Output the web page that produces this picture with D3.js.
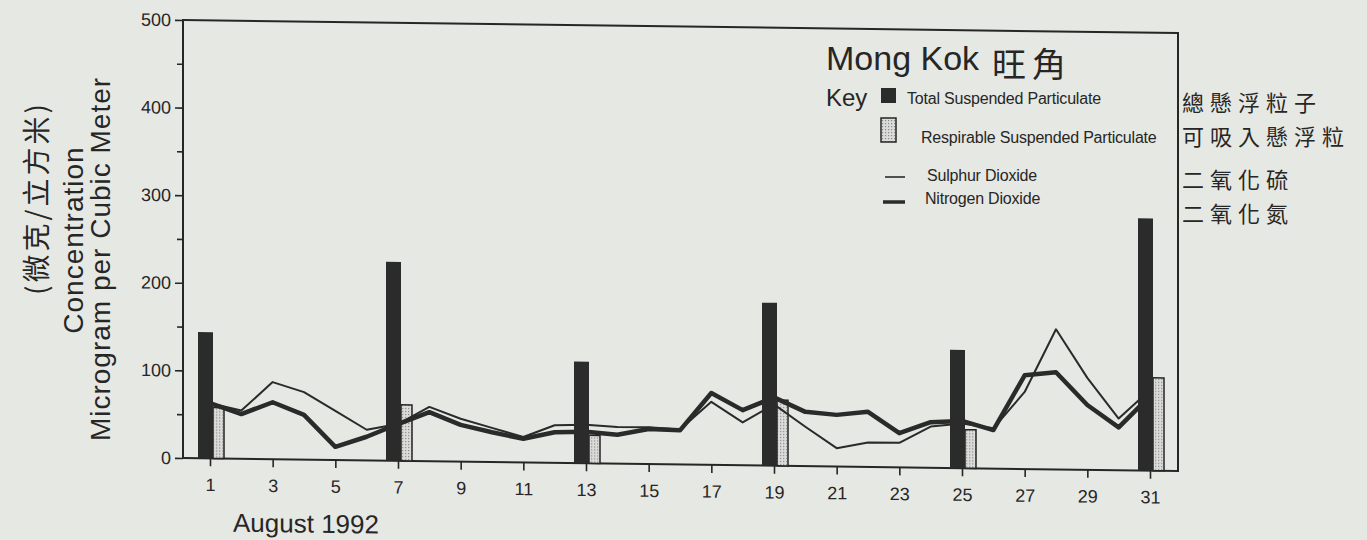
<!DOCTYPE html>
<html>
    <head>
        <meta charset="UTF-8">
        <title>Mong Kok August 1992</title>
        <script src="https://d3js.org/d3.v7.min.js"></script>
        <style>
            body {
                margin: 0;
                padding: 0;
                background: #e6e8e3;
            }
            text {
                font-family: "Liberation Sans", Arial, sans-serif;
                fill: #262626;
            }
            .cjk {
                font-family: "Noto Sans CJK TC", "Noto Sans CJK SC", sans-serif;
            }
        </style>
    </head>
    <body>
        <div id="chart"></div>
        <script>
            // day of month along the x axis
            var days = [1, 2, 3, 4, 5, 6, 7, 8, 9, 10, 11, 12, 13, 14, 15, 16,
                        17, 18, 19, 20, 21, 22, 23, 24, 25, 26, 27, 28, 29, 30, 31];
            // sulphur dioxide (thin line)
            var so2 = [63, 55, 88, 77, 56, 35, 42, 62, 49, 39, 29, 43, 44, 42, 42, 40,
                       72, 49, 70, 45, 21, 28, 28, 47, 51, 46, 88, 160, 105, 59, 92];
            // nitrogen dioxide (thick line)
            var no2 = [63, 51, 65, 51, 15, 27, 42, 56, 42, 34, 27, 35, 36, 33, 40, 39,
                       82, 63, 78, 62, 59, 63, 39, 52, 54, 44, 107, 111, 74, 49, 85];
            // particulates sampled every sixth day
            var barDays = [1, 7, 13, 19, 25, 31];
            var tsp = [144, 227, 116, 186, 135, 288];
            var rsp = [58, 64, 32, 75, 44, 106];
            // tick labels
            var yTicks = [0, 100, 200, 300, 400, 500];
            var yMinor = [50, 150, 250, 350, 450];
            var xTicks = [1, 3, 5, 7, 9, 11, 13, 15, 17, 19, 21, 23, 25, 27, 29, 31];

            var svgWidth = 1367, svgHeight = 540;
            // plot frame (note: "top" is reserved on window, so prefix these)
            var frameLeft = 183, frameRight = 1178, frameTop = 20, frameBottom = 458;

            var svg = d3.select('#chart').append('svg')
                .attr('width', svgWidth)
                .attr('height', svgHeight)
                .style('display', 'block');

            // stipple for respirable particulate bars
            var defs = svg.append('defs');
            var pat = defs.append('pattern')
                .attr('id', 'stipple')
                .attr('width', 3).attr('height', 3)
                .attr('patternUnits', 'userSpaceOnUse');
            pat.append('rect').attr('width', 3).attr('height', 3).attr('fill', '#dcdcda');
            pat.append('rect').attr('width', 1.2).attr('height', 1.2).attr('fill', '#8a8a8a');

            var x = d3.scaleLinear().domain([1, 31]).range([210, 1150]);
            var y = d3.scaleLinear().domain([0, 500]).range([frameBottom, frameTop]);

            // the scanned page sits slightly askew
            var g = svg.append('g')
                .attr('transform', `translate(${frameLeft},${frameBottom}) skewY(0.75) translate(${-frameLeft},${-frameBottom})`);

            // frame
            g.append('rect')
                .attr('x', frameLeft).attr('y', frameTop)
                .attr('width', frameRight - frameLeft).attr('height', frameBottom - frameTop)
                .attr('fill', 'none')
                .attr('stroke', '#262626')
                .attr('stroke-width', 2);

            // y axis, major and minor ticks
            var yAxis = g.append('g')
                .attr('transform', `translate(${frameLeft},0)`)
                .call(d3.axisLeft(y).tickValues(yTicks).tickSize(8).tickPadding(4));
            g.append('g')
                .attr('transform', `translate(${frameLeft},0)`)
                .call(d3.axisLeft(y).tickValues(yMinor).tickSize(6).tickFormat(''));
            g.selectAll('.domain').remove();
            g.selectAll('.tick line').attr('stroke', '#262626').attr('stroke-width', 1.6);
            yAxis.selectAll('text')
                .style('font-size', '18px')
                .style('font-family', '"Liberation Sans", Arial, sans-serif')
                .attr('fill', '#262626');

            // x axis
            var xAxis = g.append('g')
                .attr('transform', `translate(0,${frameBottom})`)
                .call(d3.axisBottom(x).tickValues(xTicks).tickSize(8).tickPadding(12));
            xAxis.select('.domain').remove();
            xAxis.selectAll('.tick line').attr('stroke', '#262626').attr('stroke-width', 1.6);
            xAxis.selectAll('text')
                .style('font-size', '18px')
                .style('font-family', '"Liberation Sans", Arial, sans-serif')
                .attr('fill', '#262626');

            g.append('text')
                .attr('x', 233).attr('y', 531)
                .style('font-size', '26px')
                .text('August 1992');

            // respirable suspended particulate bars (behind the lines)
            g.selectAll('.rsp')
                .data(barDays)
                .enter().append('rect')
                .attr('class', 'rsp')
                .attr('x', d => x(d) + 3)
                .attr('width', 11)
                .attr('y', (d, i) => y(rsp[i]))
                .attr('height', (d, i) => y(0) - y(rsp[i]))
                .attr('fill', 'url(#stipple)')
                .attr('stroke', '#262626')
                .attr('stroke-width', 1.5);

            // pollutant lines
            var line = d3.line()
                .x(d => x(d[0]))
                .y(d => y(d[1]));
            g.append('path')
                .datum(days.map((d, i) => [d, so2[i]]))
                .attr('d', line)
                .attr('fill', 'none')
                .attr('stroke', '#2a2a2a')
                .attr('stroke-width', 2)
                .attr('stroke-linejoin', 'round');
            g.append('path')
                .datum(days.map((d, i) => [d, no2[i]]))
                .attr('d', line)
                .attr('fill', 'none')
                .attr('stroke', '#2a2a2a')
                .attr('stroke-width', 4.5)
                .attr('stroke-linejoin', 'round');

            // total suspended particulate bars (in front)
            g.selectAll('.tsp')
                .data(barDays)
                .enter().append('rect')
                .attr('class', 'tsp')
                .attr('x', d => x(d) - 12)
                .attr('width', 15)
                .attr('y', (d, i) => y(tsp[i]))
                .attr('height', (d, i) => y(0) - y(tsp[i]))
                .attr('fill', '#2b2b2b');

            // y axis titles
            svg.append('text')
                .attr('class', 'cjk')
                .attr('transform', 'translate(47,198) rotate(-90)')
                .attr('text-anchor', 'middle')
                .style('font-size', '28px')
                .style('letter-spacing', '3px')
                .text('(微克/立方米)');
            svg.append('text')
                .attr('transform', 'translate(83,240) rotate(-90)')
                .attr('text-anchor', 'middle')
                .style('font-size', '28px')
                .style('letter-spacing', '1px')
                .text('Concentration');
            svg.append('text')
                .attr('transform', 'translate(110,259) rotate(-90)')
                .attr('text-anchor', 'middle')
                .style('font-size', '28px')
                .style('letter-spacing', '1px')
                .text('Microgram per Cubic Meter');

            // title and key inside the frame
            svg.append('text')
                .attr('x', 826).attr('y', 70)
                .style('font-size', '34px')
                .text('Mong Kok');
            svg.append('text')
                .attr('class', 'cjk')
                .attr('x', 992).attr('y', 77)
                .style('font-size', '34px')
                .style('letter-spacing', '6px')
                .text('旺角');
            svg.append('text')
                .attr('x', 826).attr('y', 106)
                .style('font-size', '24px')
                .text('Key');

            svg.append('rect')
                .attr('x', 881).attr('y', 88).attr('width', 15).attr('height', 15)
                .attr('fill', '#2b2b2b');
            svg.append('rect')
                .attr('x', 881).attr('y', 118).attr('width', 15).attr('height', 24)
                .attr('fill', 'url(#stipple)')
                .attr('stroke', '#262626').attr('stroke-width', 1.5);
            svg.append('line')
                .attr('x1', 885).attr('x2', 905).attr('y1', 177).attr('y2', 177)
                .attr('stroke', '#2a2a2a').attr('stroke-width', 1.6);
            svg.append('line')
                .attr('x1', 883).attr('x2', 905).attr('y1', 202).attr('y2', 202)
                .attr('stroke', '#2a2a2a').attr('stroke-width', 3.5);

            var keyLabels = [
                { x: 907, y: 104, t: 'Total Suspended Particulate' },
                { x: 921, y: 143, t: 'Respirable Suspended Particulate' },
                { x: 927, y: 181, t: 'Sulphur Dioxide' },
                { x: 925, y: 204, t: 'Nitrogen Dioxide' }
            ];
            svg.selectAll('.keylabel')
                .data(keyLabels)
                .enter().append('text')
                .attr('class', 'keylabel')
                .attr('x', d => d.x).attr('y', d => d.y)
                .style('font-size', '16px')
                .style('letter-spacing', '-0.2px')
                .text(d => d.t);

            // handwritten notes beside the frame
            var notes = [
                { y: 111, t: '總懸浮粒子' },
                { y: 145, t: '可吸入懸浮粒' },
                { y: 188, t: '二氧化硫' },
                { y: 222, t: '二氧化氮' }
            ];
            svg.selectAll('.note')
                .data(notes)
                .enter().append('text')
                .attr('class', 'note cjk')
                .attr('x', 1182).attr('y', d => d.y)
                .style('font-size', '22px')
                .style('letter-spacing', '6px')
                .text(d => d.t);
        </script>
    </body>
</html>
